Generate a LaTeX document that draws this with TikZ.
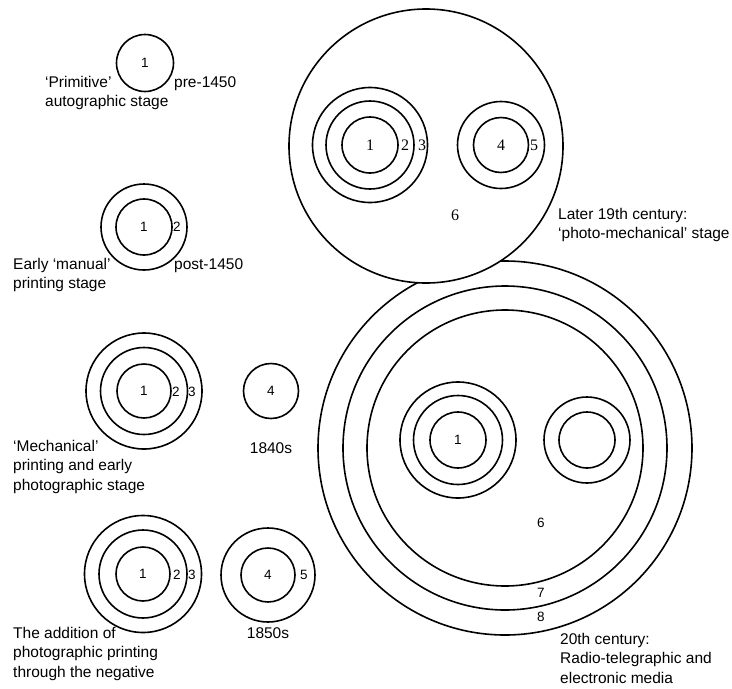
\documentclass[tikz,border=0pt]{standalone}
\usepackage{fontspec}
\setmainfont{Liberation Sans}
\newfontfamily\numserif{Liberation Serif}
\tikzset{
  ring/.style={draw, circle, line width=1.6pt, inner sep=0pt, minimum size=#1},
  num/.style={font=\fontsize{13.5}{13.5}\selectfont, inner sep=0pt},
  snum/.style={font=\numserif\fontsize{16}{16}\selectfont, inner sep=0pt},
  caption/.style={font=\fontsize{15.5}{19.5}\selectfont, align=left, anchor=north west, inner sep=0pt}
}
\begin{document}
\begin{tikzpicture}[x=1pt, y=-1pt]
	\useasboundingbox (0,0) rectangle (732,689);
	
	% 'Primitive' stage
	\node[ring=57] (PrimOuter) at (145,63) {};
	\node[num] (PrimOne) at (PrimOuter) {1};
	\node[caption] (PrimText) at (45,76) {`Primitive'\\autographic stage};
	\node[caption] (PrimDate) at (174,76) {pre-1450};
	
	% Early 'manual' printing
	\node[ring=86] (ManOuter) at (144,227) {};
	\node[ring=56] (ManInner) at (144,227) {};
	\node[num] (ManOne) at (ManInner) {1};
	\node[num] (ManTwo) at (177,227) {2};
	\node[caption] (ManText) at (13,258) {Early `manual'\\printing stage};
	\node[caption] (ManDate) at (174,258) {post-1450};
	
	% 'Mechanical' printing and early photography
	\node[ring=116] (MechOuter) at (144,391) {};
	\node[ring=87] (MechMiddle) at (144,391) {};
	\node[ring=54] (MechInner) at (144,391) {};
	\node[num] (MechOne) at (MechInner) {1};
	\node[num] (MechTwo) at (176,392) {2};
	\node[num] (MechThree) at (192,392) {3};
	\node[ring=55] (PhotoA) at (271,391) {};
	\node[num] (PhotoAFour) at (PhotoA) {4};
	\node[caption] (MechText) at (13,440) {`Mechanical'\\printing and early\\photographic stage};
	\node[num, font=\fontsize{15.5}{15.5}\selectfont] (PhotoADate) at (271,448) {1840s};
	
	% photographic printing through the negative
	\node[ring=117] (NegOuter) at (143,574) {};
	\node[ring=88] (NegMiddle) at (143,574) {};
	\node[ring=54] (NegInner) at (143,574) {};
	\node[num] (NegOne) at (NegInner) {1};
	\node[num] (NegTwo) at (177,575) {2};
	\node[num] (NegThree) at (192,575) {3};
	\node[ring=94] (PhotoBOuter) at (268,575) {};
	\node[ring=54] (PhotoBInner) at (268,575) {};
	\node[num] (PhotoBFour) at (PhotoBInner) {4};
	\node[num] (PhotoBFive) at (304,575) {5};
	\node[caption] (NegText) at (13,627) {The addition of\\photographic printing\\through the negative};
	\node[num, font=\fontsize{15.5}{15.5}\selectfont] (PhotoBDate) at (268,633) {1850s};
	
	% 20th century
	\node[ring=374] (RadioOuter) at (505,448) {};
	\node[ring=324] (RadioMiddle) at (505,448) {};
	\node[ring=276] (RadioInner) at (505,448) {};
	\node[ring=116] (RadioPrintOuter) at (458,440) {};
	\node[ring=89] (RadioPrintMiddle) at (458,440) {};
	\node[ring=56] (RadioPrintInner) at (458,440) {};
	\node[num] (RadioOne) at (RadioPrintInner) {1};
	\node[ring=86] (RadioPhotoOuter) at (587,440) {};
	\node[ring=56] (RadioPhotoInner) at (587,440) {};
	\node[num] (RadioSix) at (541,523) {6};
	\node[num] (RadioSeven) at (541,593) {7};
	\node[num] (RadioEight) at (541,617) {8};
	\node[caption] (RadioText) at (560,633) {20th century:\\Radio-telegraphic and\\electronic media};
	
	% Later 19th century
	\node[ring=274, fill=white] (LateOuter) at (426,146) {};
	\node[ring=115] (LatePrintOuter) at (370,145) {};
	\node[ring=88] (LatePrintMiddle) at (370,145) {};
	\node[ring=56] (LatePrintInner) at (370,145) {};
	\node[snum] (LateOne) at (LatePrintInner) {1};
	\node[snum] (LateTwo) at (405,145) {2};
	\node[snum] (LateThree) at (422,145) {3};
	\node[ring=87] (LatePhotoOuter) at (501,145) {};
	\node[ring=55] (LatePhotoInner) at (501,145) {};
	\node[snum] (LateFour) at (LatePhotoInner) {4};
	\node[snum] (LateFive) at (534,145) {5};
	\node[snum] (LateSix) at (455,215) {6};
	\node[caption] (LateText) at (558,208) {Later 19th century:\\`photo-mechanical' stage};
	
\end{tikzpicture}
\end{document}
